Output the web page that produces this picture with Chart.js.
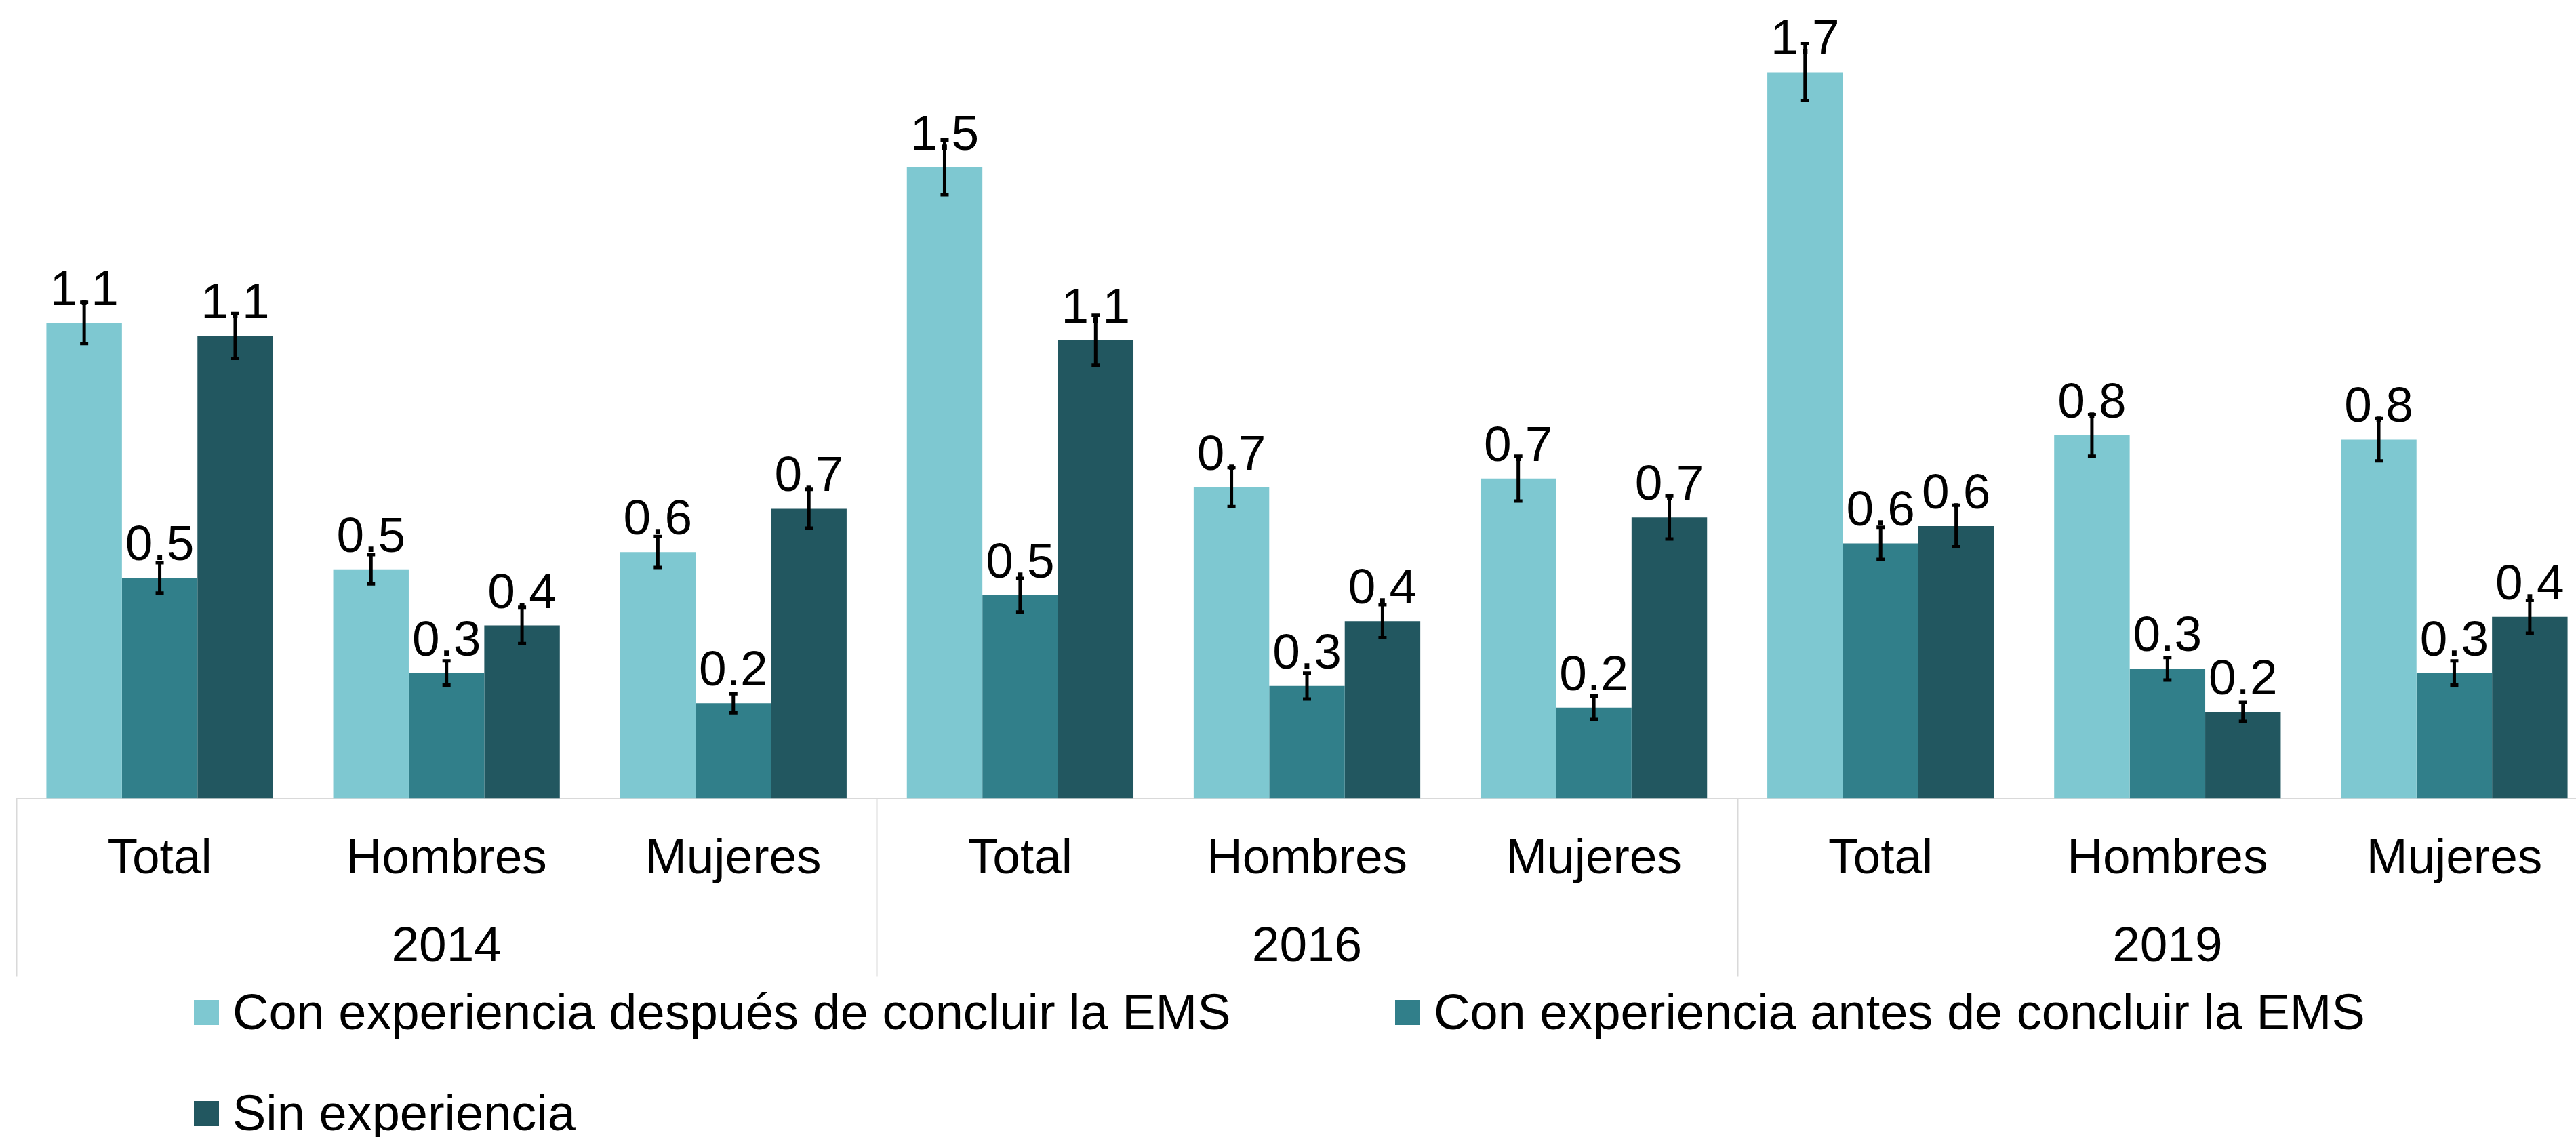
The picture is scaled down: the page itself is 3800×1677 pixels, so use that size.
<!DOCTYPE html>
<html lang="es">
<head>
<meta charset="utf-8">
<title>Experiencia laboral y EMS</title>
<script src="https://cdn.jsdelivr.net/npm/chart.js@4.4.1/dist/chart.umd.min.js"></script>
<style>
  html, body { margin: 0; padding: 0; background: #fff; overflow: hidden; }
  #wrap { position: relative; width: 3832px; height: 1677px; }
</style>
</head>
<body>
<div id="wrap"><canvas id="chart" width="3832" height="1677"></canvas></div>
<script>
// categorias y años
const categorias = ["Total", "Hombres", "Mujeres", "Total", "Hombres", "Mujeres", "Total", "Hombres", "Mujeres"];
const anios = ["2014", "2016", "2019"];

// series (porcentajes) y su error
const conDespues = [1.10, 0.53, 0.57, 1.46, 0.72, 0.74, 1.68, 0.84, 0.83];
const conAntes = [0.51, 0.29, 0.22, 0.47, 0.26, 0.21, 0.59, 0.30, 0.29];
const sinExperiencia = [1.07, 0.40, 0.67, 1.06, 0.41, 0.65, 0.63, 0.20, 0.42];

const errDespues = [0.048, 0.034, 0.036, 0.063, 0.045, 0.052, 0.066, 0.048, 0.049];
const errAntes = [0.035, 0.028, 0.022, 0.039, 0.030, 0.027, 0.037, 0.026, 0.028];
const errSin = [0.052, 0.042, 0.045, 0.058, 0.038, 0.050, 0.048, 0.022, 0.038];

const COLOR_LIGHT = "#7ec8d1";
const COLOR_MID = "#317f8a";
const COLOR_DARK = "#225760";
const COLOR_LINE = "#d9d9d9";
const FONT = "'Liberation Sans', Arial, sans-serif";

// two-line tick: category on top, year under the middle one
const xLabels = categorias.map((c, i) => [c, i % 3 === 1 ? anios[Math.floor(i / 3)] : ""]);

const fmt = (v) => (Math.round(v * 10) / 10).toFixed(1);

// value labels + error bars on top of each bar
const barExtras = {
  id: "barExtras",
  afterDatasetsDraw(chart) {
    const { ctx, scales } = chart;
    const y = scales.y;
    ctx.save();
    chart.data.datasets.forEach((ds, di) => {
      const meta = chart.getDatasetMeta(di);
      meta.data.forEach((bar, i) => {
        ctx.fillStyle = "#000";
        ctx.font = `73px ${FONT}`;
        ctx.textAlign = "center";
        ctx.textBaseline = "alphabetic";
        ctx.fillText(fmt(ds.data[i]), bar.x, bar.y - 26);
      });
    });
    chart.data.datasets.forEach((ds, di) => {
      const meta = chart.getDatasetMeta(di);
      meta.data.forEach((bar, i) => {
        const v = ds.data[i];
        const e = ds.errors[i];
        const top = y.getPixelForValue(v + e);
        const bot = y.getPixelForValue(v - e);
        ctx.strokeStyle = "#000";
        ctx.lineWidth = 5;
        ctx.beginPath();
        ctx.moveTo(bar.x, top);
        ctx.lineTo(bar.x, bot);
        ctx.moveTo(bar.x - 6, top);
        ctx.lineTo(bar.x + 6, top);
        ctx.moveTo(bar.x - 6, bot);
        ctx.lineTo(bar.x + 6, bot);
        ctx.stroke();
      });
    });
    ctx.restore();
  },
};

// year separators under the axis and the legend
const axisAndLegend = {
  id: "axisAndLegend",
  afterDraw(chart) {
    const { ctx, scales, chartArea } = chart;
    const x = scales.x;
    const step = x.getPixelForValue(1) - x.getPixelForValue(0);
    ctx.save();
    ctx.strokeStyle = COLOR_LINE;
    ctx.lineWidth = 2;
    for (let k = 0; k <= anios.length; k++) {
      const px = Math.round(x.getPixelForValue(k * 3) - step / 2) + 0.5;
      ctx.beginPath();
      ctx.moveTo(px, chartArea.bottom);
      ctx.lineTo(px, chartArea.bottom + 263);
      ctx.stroke();
    }

    // legend
    const rows = [
      [{ i: 0, x: 286 }, { i: 1, x: 2058 }],
      [{ i: 2, x: 286 }],
    ];
    const baselines = [1518, 1667];
    ctx.font = `74px ${FONT}`;
    ctx.textAlign = "left";
    ctx.textBaseline = "alphabetic";
    rows.forEach((row, r) => {
      row.forEach(({ i, x: lx }) => {
        const ds = chart.data.datasets[i];
        ctx.fillStyle = ds.backgroundColor;
        ctx.fillRect(lx, baselines[r] - 43, 37, 37);
        ctx.fillStyle = "#000";
        ctx.fillText(ds.label, lx + 57, baselines[r]);
      });
    });
    ctx.restore();
  },
};

new Chart(document.getElementById("chart"), {
  type: "bar",
  data: {
    labels: xLabels,
    datasets: [
      {
        label: "Con experiencia después de concluir la EMS",
        data: conDespues,
        errors: errDespues,
        backgroundColor: COLOR_LIGHT,
      },
      {
        label: "Con experiencia antes de concluir la EMS",
        data: conAntes,
        errors: errAntes,
        backgroundColor: COLOR_MID,
      },
      {
        label: "Sin experiencia",
        data: sinExperiencia,
        errors: errSin,
        backgroundColor: COLOR_DARK,
      },
    ],
  },
  options: {
    responsive: false,
    animation: false,
    events: [],
    layout: { padding: { left: 24, right: 0, top: 0, bottom: 189 } },
    datasets: {
      bar: { categoryPercentage: 0.79, barPercentage: 1.0, borderWidth: 0 },
    },
    scales: {
      x: {
        grid: { display: false, drawTicks: false },
        border: { display: true, color: COLOR_LINE, width: 2 },
        ticks: {
          color: "#000",
          padding: 26,
          autoSkip: false,
          maxRotation: 0,
          minRotation: 0,
          font: { family: FONT, size: 73, lineHeight: 1.77 },
        },
      },
      y: {
        display: false,
        min: 0,
        max: 1.847,
      },
    },
    plugins: {
      legend: { display: false },
      tooltip: { enabled: false },
    },
  },
  plugins: [barExtras, axisAndLegend],
});
</script>
</body>
</html>
